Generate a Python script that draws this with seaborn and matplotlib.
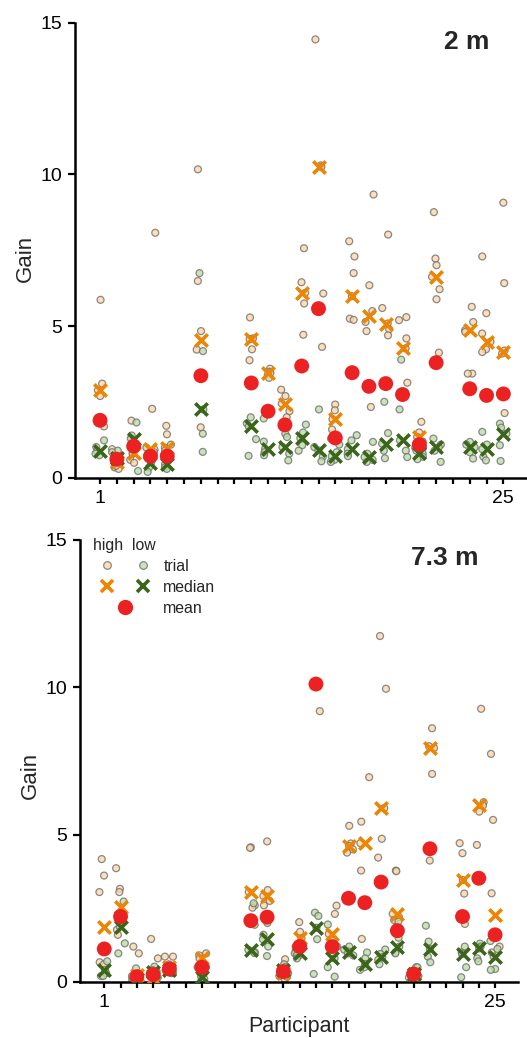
import numpy as np
import pandas as pd
import matplotlib
matplotlib.use("Agg")
import matplotlib.pyplot as plt
from matplotlib.lines import Line2D
from matplotlib.legend_handler import HandlerTuple
import seaborn as sns

np.random.seed(3)

# ---------------- data ----------------
participants = [1, 2, 3, 4, 5, 7, 10, 11, 12, 13, 14, 15, 16, 17, 18, 19, 20, 21, 23, 24, 25]
x_tick_labels = {1: "1", 25: "25"}

# 2 m condition
med_high_2 = [2.89, 0.53, 0.81, 0.94, 1.00, 4.54, 4.57, 3.46, 2.45, 6.10, 10.25, 1.94, 5.99, 5.33, 5.09, 4.27, 1.35, 6.63, 4.87, 4.49, 4.15]
med_low_2 = [0.88, 0.65, 1.30, 0.50, 0.45, 2.26, 1.70, 0.96, 1.02, 1.31, 0.91, 0.72, 0.95, 0.69, 1.13, 1.24, 0.81, 1.01, 1.01, 0.95, 1.46]
mean_2 = [1.90, 0.62, 1.05, 0.72, 0.72, 3.37, 3.13, 2.20, 1.75, 3.69, 5.58, 1.32, 3.47, 3.02, 3.11, 2.75, 1.10, 3.80, 2.94, 2.72, 2.77]

trials_high_2 = {
    1: [5.87, 3.11, 2.89, 2.70, 1.70],
    2: [0.95, 0.70, 0.53, 0.35, 0.30],
    3: [1.89, 1.00, 0.81, 0.60, 0.50],
    4: [8.08, 2.28, 0.94, 0.85, 0.80],
    5: [1.72, 1.44, 1.00, 0.90, 0.80],
    7: [10.17, 6.49, 4.84, 4.23, 1.67],
    10: [5.29, 4.60, 4.57, 4.24, 3.88],
    11: [3.60, 3.50, 3.46, 3.40, 3.30],
    12: [2.91, 2.70, 2.45, 2.20, 2.00],
    13: [7.57, 6.45, 6.10, 5.75, 4.72],
    14: [14.45, 10.30, 10.25, 6.08, 4.32],
    15: [2.42, 2.23, 1.94, 1.60, 1.30],
    16: [7.80, 7.30, 6.75, 5.99, 5.25, 5.21],
    17: [9.34, 6.35, 5.50, 5.14, 4.84, 2.34],
    18: [8.02, 5.60, 5.09, 4.90, 4.70],
    19: [5.30, 5.20, 4.60, 4.27, 3.14],
    20: [1.85, 1.50, 1.35, 1.20, 1.00],
    21: [8.76, 7.23, 7.01, 6.63, 6.22, 5.89, 4.13],
    23: [5.64, 5.14, 4.87, 4.81, 3.44, 3.44],
    24: [7.30, 5.43, 4.76, 4.49, 4.24, 4.15],
    25: [9.07, 6.42, 4.20, 4.10, 2.14],
}
trials_low_2 = {
    1: [1.24, 1.02, 0.88, 0.80, 0.75],
    2: [0.90, 0.85, 0.65, 0.50, 0.40],
    3: [1.83, 1.40, 1.30, 0.80, 0.23],
    4: [1.00, 0.60, 0.50, 0.35, 0.20],
    5: [1.10, 0.60, 0.45, 0.35, 0.30],
    7: [6.75, 4.18, 2.26, 1.46, 0.86],
    10: [2.00, 1.80, 1.70, 1.28, 0.73],
    11: [1.96, 1.20, 0.96, 0.85, 0.75],
    12: [1.46, 1.35, 1.02, 0.80, 0.58],
    13: [1.76, 1.50, 1.31, 1.08, 0.90],
    14: [2.26, 1.02, 0.91, 0.70, 0.55],
    15: [1.10, 0.85, 0.72, 0.60, 0.53],
    16: [1.41, 1.24, 0.95, 0.80, 0.72],
    17: [1.19, 0.80, 0.69, 0.60, 0.53],
    18: [2.51, 1.48, 1.13, 0.90, 0.65],
    19: [3.90, 2.26, 1.24, 0.90, 0.69],
    20: [1.00, 0.90, 0.81, 0.70, 0.62],
    21: [1.30, 1.10, 1.01, 0.90, 0.53],
    23: [1.19, 1.10, 1.01, 0.85, 0.64],
    24: [1.52, 1.10, 0.95, 0.70, 0.58],
    25: [1.79, 1.66, 1.46, 1.08, 0.56],
}

# 7.3 m condition
med_high_7 = [1.86, 2.56, 0.25, 0.15, 0.50, 0.80, 3.05, 2.92, 0.30, 1.48, 18.4, 1.63, 4.62, 4.71, 5.90, 2.31, 0.27, 7.94, 3.46, 5.99, 2.28]
med_low_7 = [0.41, 1.88, 0.10, 0.35, 0.40, 0.18, 1.09, 1.45, 0.40, 0.97, 1.84, 0.80, 1.03, 0.61, 0.84, 1.20, 0.27, 1.12, 0.95, 1.14, 0.86]
mean_7 = [1.12, 2.22, 0.18, 0.25, 0.44, 0.50, 2.08, 2.20, 0.35, 1.20, 10.11, 1.20, 2.84, 2.69, 3.39, 1.74, 0.27, 4.52, 2.22, 3.52, 1.60]

trials_high_7 = {
    1: [4.17, 3.61, 3.05, 0.67, 0.60, 0.20],
    2: [3.86, 3.16, 3.05, 2.10, 1.77, 1.60],
    3: [1.20, 0.97, 0.25, 0.15, 0.10],
    4: [1.46, 0.80, 0.15, 0.10, 0.08],
    5: [0.86, 0.86, 0.50, 0.40, 0.30],
    7: [0.97, 0.90, 0.80, 0.50, 0.30],
    10: [4.57, 4.55, 3.05, 2.60, 2.52],
    11: [4.77, 3.12, 2.92, 2.75, 2.60],
    12: [0.77, 0.50, 0.30, 0.20, 0.10],
    13: [2.03, 1.70, 1.48, 1.20, 0.90],
    14: [25.0, 20.0, 18.4, 17.0, 9.19],
    15: [2.59, 2.31, 1.63, 1.40, 1.20],
    16: [5.30, 4.70, 4.62, 4.50, 4.39],
    17: [6.95, 5.44, 4.71, 3.78, 1.46],
    18: [11.74, 9.95, 5.90, 4.86, 4.22],
    19: [3.78, 3.76, 2.31, 2.20, 2.10],
    20: [0.50, 0.35, 0.27, 0.20, 0.15],
    21: [8.61, 8.00, 7.94, 7.06, 4.12],
    23: [4.71, 4.37, 3.46, 3.00, 1.97],
    24: [9.27, 6.10, 5.99, 5.78, 4.65],
    25: [7.74, 5.50, 3.01, 1.55, 1.20, 1.00],
}
trials_low_7 = {
    1: [1.10, 0.70, 0.41, 0.30, 0.20],
    2: [2.73, 2.10, 1.88, 1.31, 0.97],
    3: [0.46, 0.20, 0.10, 0.05, 0.05],
    4: [0.52, 0.40, 0.35, 0.30, 0.20],
    5: [0.60, 0.50, 0.40, 0.35, 0.30],
    7: [0.50, 0.30, 0.18, 0.10, 0.05],
    10: [2.67, 1.94, 1.09, 1.00, 0.98],
    11: [2.00, 1.60, 1.45, 1.20, 0.88],
    12: [0.60, 0.50, 0.40, 0.30, 0.18],
    13: [1.10, 1.00, 0.97, 0.90, 0.80],
    14: [2.35, 2.24, 1.84, 1.45, 0.27],
    15: [1.95, 1.20, 0.80, 0.50, 0.18],
    16: [1.20, 1.10, 1.03, 0.97, 0.90],
    17: [1.00, 0.80, 0.61, 0.50, 0.41],
    18: [1.10, 0.95, 0.84, 0.75, 0.60],
    19: [2.05, 1.50, 1.20, 1.00, 0.97],
    20: [0.50, 0.35, 0.27, 0.20, 0.10],
    21: [1.91, 1.37, 1.12, 0.86, 0.67],
    23: [1.20, 1.00, 0.95, 0.50, 0.16],
    24: [1.30, 1.20, 1.14, 0.80, 0.70],
    25: [1.39, 1.12, 0.86, 0.44, 0.41],
}

panel_titles = ["2 m", "7.3 m"]
y_ticks = [0, 5, 10, 15]

# ---------------- style ----------------
sns.set_style("ticks")
plt.rcParams["font.family"] = ["Liberation Sans", "DejaVu Sans"]

C_TAN = "#FDD6A6"
C_LGREEN = "#BCDDA6"
C_EDGE = "#6e6e6e"
C_ORANGE = "#EE8400"
C_DGREEN = "#3B6519"
C_RED = "#EC2222"

fig = plt.figure(figsize=(5.27, 10.38), dpi=100)
ax_top = fig.add_axes([0.1423, 0.5395, 0.8575, 0.4386])
ax_bot = fig.add_axes([0.1518, 0.0540, 0.8309, 0.4258])


def long_df(trials, cond):
    rows = []
    for p, vals in trials.items():
        for v in vals:
            rows.append((p, v, cond))
    return pd.DataFrame(rows, columns=["participant", "gain", "cond"])


def draw(ax, th, tl, mh, ml, mn, title, title_xy):
    df = pd.concat([long_df(th, "high"), long_df(tl, "low")], ignore_index=True)
    sns.stripplot(data=df, x="participant", y="gain", hue="cond",
                  palette={"high": C_TAN, "low": C_LGREEN},
                  native_scale=True, jitter=0.3, dodge=False, size=5,
                  linewidth=0.9, edgecolor=C_EDGE, alpha=0.8, legend=False,
                  ax=ax, zorder=2)
    sns.scatterplot(x=participants, y=mh, marker="x", color=C_ORANGE, s=80,
                    linewidth=2.6, ax=ax, zorder=3, legend=False)
    sns.scatterplot(x=participants, y=ml, marker="x", color=C_DGREEN, s=80,
                    linewidth=2.6, ax=ax, zorder=3, legend=False)
    sns.scatterplot(x=participants, y=mn, marker="o", color=C_RED, s=115,
                    edgecolor="none", linewidth=0, ax=ax, zorder=4, legend=False)

    ax.set_xlim(-0.49, 26.4)
    ax.set_ylim(0, 15)
    ax.set_yticks(y_ticks)
    ax.set_yticklabels([str(t) for t in y_ticks])
    ticks = list(range(1, 26))
    ax.set_xticks(ticks)
    ax.set_xticklabels([x_tick_labels.get(t, "") for t in ticks])
    ax.tick_params(axis="both", direction="out", width=1.6, colors="black",
                   labelsize=14, pad=4)
    ax.tick_params(axis="y", length=5)
    ax.tick_params(axis="x", length=4.5)
    sns.despine(ax=ax)
    for s in ["left", "bottom"]:
        ax.spines[s].set_linewidth(1.8)
        ax.spines[s].set_color("black")
    ax.set_xlabel("")
    ax.set_ylabel("Gain", fontsize=16)
    ax.text(title_xy[0], title_xy[1], title, transform=ax.transAxes,
            ha="right", va="center", fontsize=19, fontweight="bold")


draw(ax_top, trials_high_2, trials_low_2, med_high_2, med_low_2, mean_2,
     panel_titles[0], (0.916, 0.958))
draw(ax_bot, trials_high_7, trials_low_7, med_high_7, med_low_7, mean_7,
     panel_titles[1], (0.911, 0.960))

ax_top.yaxis.set_label_coords(-0.087, 0.483)
ax_bot.yaxis.set_label_coords(-0.090, 0.468)
ax_bot.set_xlabel("Participant", fontsize=15.5, va="top")
ax_bot.xaxis.set_label_coords(0.5, -0.078)

# legend
h_trial_hi = Line2D([], [], ls="", marker="o", ms=5.5, mfc=C_TAN, mec=C_EDGE, mew=0.9, alpha=0.8)
h_trial_lo = Line2D([], [], ls="", marker="o", ms=5.5, mfc=C_LGREEN, mec=C_EDGE, mew=0.9, alpha=0.8)
h_med_hi = Line2D([], [], ls="", marker="x", ms=9, mew=2.6, color=C_ORANGE)
h_med_lo = Line2D([], [], ls="", marker="x", ms=9, mew=2.6, color=C_DGREEN)
h_mean = Line2D([], [], ls="", marker="o", ms=11, color=C_RED, mec="none")
leg = ax_bot.legend([(h_trial_hi, h_trial_lo), (h_med_hi, h_med_lo), h_mean],
                    ["trial", "median", "mean"],
                    handler_map={tuple: HandlerTuple(ndivide=None, pad=0.5)},
                    title="high  low", title_fontsize=11.4, fontsize=11.4,
                    loc="upper left", bbox_to_anchor=(0.03, 1.005),
                    borderaxespad=0, borderpad=0, frameon=False,
                    handlelength=4.05, handletextpad=0.38, labelspacing=0.38)
leg._legend_box.align = "left"

fig.savefig("out.png", dpi=100)
